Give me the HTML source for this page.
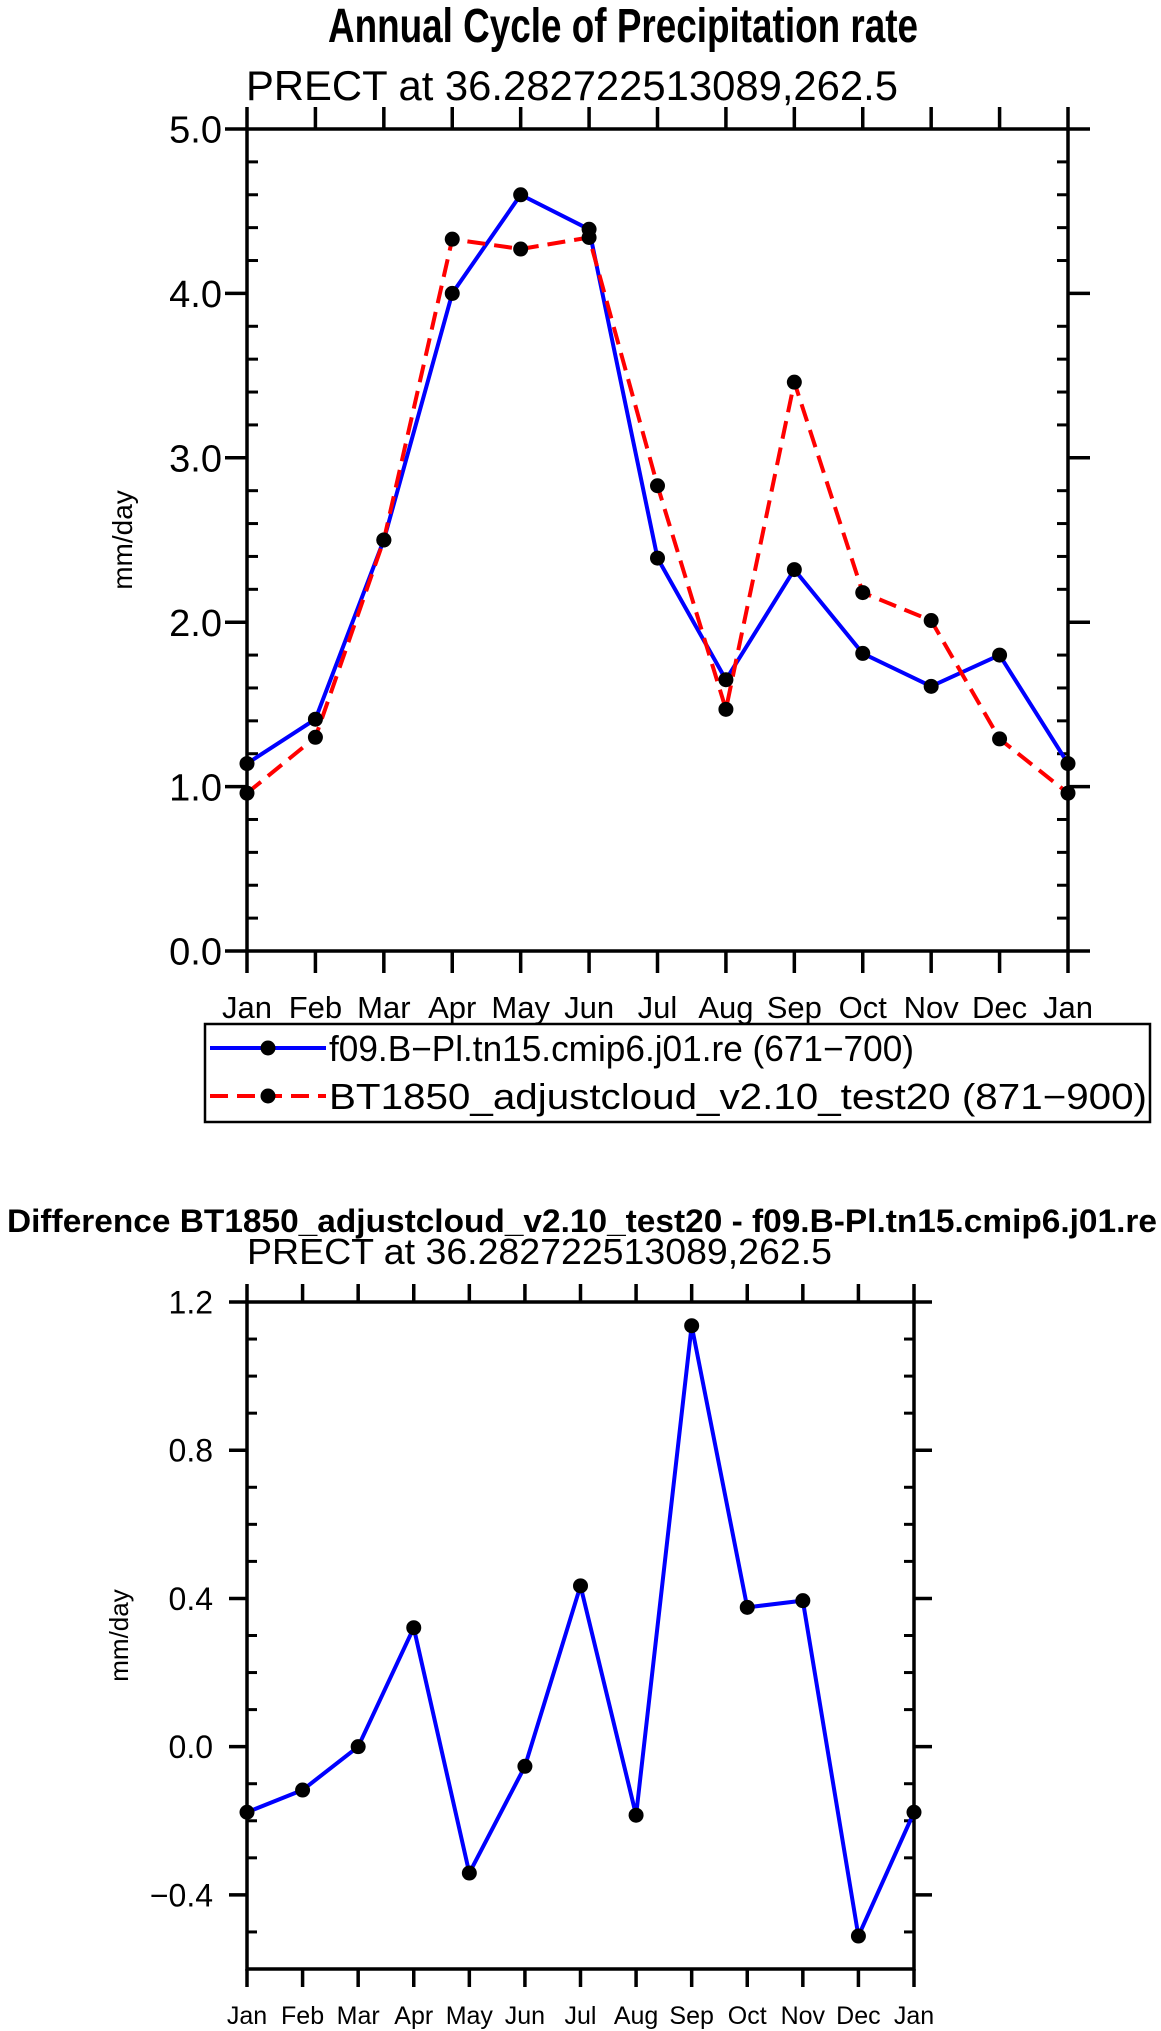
<!DOCTYPE html>
<html><head><meta charset="utf-8"><style>
html,body{margin:0;padding:0;background:#fff;}
svg{display:block;}
text{font-family:"Liberation Sans",sans-serif;fill:#000;}
</style></head><body>
<svg id="chart" width="1161" height="2031" viewBox="0 0 1161 2031" xmlns="http://www.w3.org/2000/svg">
<text x="328" y="42" font-size="48" font-weight="bold" textLength="590" lengthAdjust="spacingAndGlyphs">Annual Cycle of Precipitation rate</text>
<text x="246" y="100" font-size="42" textLength="652" lengthAdjust="spacingAndGlyphs">PRECT at 36.282722513089,262.5</text>
<text x="7" y="1232" font-size="32" font-weight="bold" textLength="1150" lengthAdjust="spacingAndGlyphs">Difference BT1850_adjustcloud_v2.10_test20 - f09.B-Pl.tn15.cmip6.j01.re</text>
<text x="247" y="1264" font-size="36" textLength="585" lengthAdjust="spacingAndGlyphs">PRECT at 36.282722513089,262.5</text>
<g id="top"></g>
<g id="bot"></g>
<g>
<rect x="205" y="1024" width="945" height="98" fill="none" stroke="#000" stroke-width="2.5"/>
<g>
<line x1="210" y1="1048" x2="326" y2="1048" stroke="#0000ff" stroke-width="4"/>
<circle cx="268" cy="1048" r="7.5" fill="#000"/>
<text x="329" y="1061" font-size="36" textLength="585" lengthAdjust="spacingAndGlyphs">f09.B−Pl.tn15.cmip6.j01.re (671−700)</text>
</g>
<g>
<line x1="210" y1="1096" x2="326" y2="1096" stroke="#ff0000" stroke-width="4" stroke-dasharray="18,9"/>
<circle cx="268" cy="1096" r="7.5" fill="#000"/>
<text x="329" y="1109" font-size="36" textLength="818" lengthAdjust="spacingAndGlyphs">BT1850_adjustcloud_v2.10_test20 (871−900)</text>
</g>
</g>
</svg>
<script>
const months = ["Jan","Feb","Mar","Apr","May","Jun","Jul","Aug","Sep","Oct","Nov","Dec","Jan"];
const controlValues = [1.14,1.41,2.50,4.00,4.60,4.39,2.39,1.65,2.32,1.81,1.61,1.80,1.14];
const testValues = [0.96,1.30,2.50,4.33,4.27,4.34,2.83,1.47,3.46,2.18,2.01,1.29,0.96];
const diffValues = [-0.177,-0.117,0.0,0.321,-0.341,-0.053,0.434,-0.185,1.136,0.376,0.394,-0.511,-0.177];
const topYTicks = [0,1,2,3,4,5];
const topYLabels = ["0.0","1.0","2.0","3.0","4.0","5.0"];
const botYTicks = [-0.4,0,0.4,0.8,1.2];
const botYLabels = ["−0.4","0.0","0.4","0.8","1.2"];

const NS="http://www.w3.org/2000/svg";
function mk(parent,tag,attrs){const e=document.createElementNS(NS,tag);for(const k in attrs)e.setAttribute(k,attrs[k]);parent.appendChild(e);return e;}

function drawPlot(g,cfg){
  const {L,R,T,B,ymin,ymax,majStep,minStep,majLen,minLen,yTicks,yLabels,yFont,xFont,xLabelY,yLabelRight,series}=cfg;
  const xs=i=>L+(R-L)*i/(months.length-1);
  const ys=v=>B-(v-ymin)/(ymax-ymin)*(B-T);
  const frame=mk(g,'rect',{x:L,y:T,width:R-L,height:B-T,fill:'none',stroke:'#000','stroke-width':3.5});
  
  
  const nMin=Math.round((ymax-ymin)/minStep);
  for(let k=0;k<=nMin;k++){
    const v=ymin+k*minStep;const y=ys(v);
    const isMaj=Math.abs((v/majStep)-Math.round(v/majStep))<1e-6;
    if(isMaj){
      mk(g,'line',{x1:L-majLen,y1:y,x2:L,y2:y,stroke:'#000','stroke-width':3.5});
      mk(g,'line',{x1:R,y1:y,x2:R+majLen,y2:y,stroke:'#000','stroke-width':3.5});
    } else {
      mk(g,'line',{x1:L+minLen,y1:y,x2:L,y2:y,stroke:'#000','stroke-width':3});
      mk(g,'line',{x1:R,y1:y,x2:R-minLen,y2:y,stroke:'#000','stroke-width':3});
    }
  }
  yTicks.forEach((v,i)=>{
    const t=mk(g,'text',{x:yLabelRight,y:ys(v)+yFont*0.36,'font-size':yFont,'text-anchor':'end'});
    
    
    t.textContent=yLabels[i];
  });
  months.forEach((m,i)=>{
    const x=xs(i);
    mk(g,'line',{x1:x,y1:B,x2:x,y2:B+majLen,stroke:'#000','stroke-width':3.5});
    mk(g,'line',{x1:x,y1:T-majLen,x2:x,y2:T,stroke:'#000','stroke-width':3.5});
    const t=mk(g,'text',{x:x,y:xLabelY,'font-size':xFont,'text-anchor':'middle'});
    
    
    t.textContent=m;
  });
  const yl=mk(g,'text',{x:0,y:0,'font-size':cfg.axisFont,'text-anchor':'middle',transform:`translate(${cfg.axisX},${(T+B)/2}) rotate(-90)`});
  
  
  yl.textContent='mm/day';
  series.forEach(s=>{
    const pts=s.vals.map((v,i)=>xs(i)+','+ys(v)).join(' ');
    const pl=mk(g,'polyline',{points:pts,fill:'none',stroke:s.color,'stroke-width':4,'stroke-dasharray':s.dash||'none','stroke-linejoin':'round'});
    
    
  });
  series.forEach(s=>{
    s.vals.forEach((v,i)=>{
      const c=mk(g,'circle',{cx:xs(i),cy:ys(v),r:7.5,fill:'#000'});
      
      
    });
  });
}

drawPlot(document.getElementById('top'),{L:247,R:1068,T:129,B:951,ymin:0,ymax:5,majStep:1,minStep:0.2,majLen:22,minLen:11,
  yTicks:topYTicks,yLabels:topYLabels,yFont:38,xFont:31,xLabelY:1018,yLabelRight:222,axisFont:28,axisX:132,
  series:[{name:'control',vals:controlValues,color:'#0000ff'},{name:'test',vals:testValues,color:'#ff0000',dash:'18,9'}]});
drawPlot(document.getElementById('bot'),{L:247,R:914,T:1302,B:1969,ymin:-0.6,ymax:1.2,majStep:0.4,minStep:0.1,majLen:18,minLen:10,
  yTicks:botYTicks,yLabels:botYLabels,yFont:32,xFont:25,xLabelY:2024,yLabelRight:213,axisFont:26,axisX:128,
  series:[{name:'difference',vals:diffValues,color:'#0000ff'}]});
</script>
</body></html>
